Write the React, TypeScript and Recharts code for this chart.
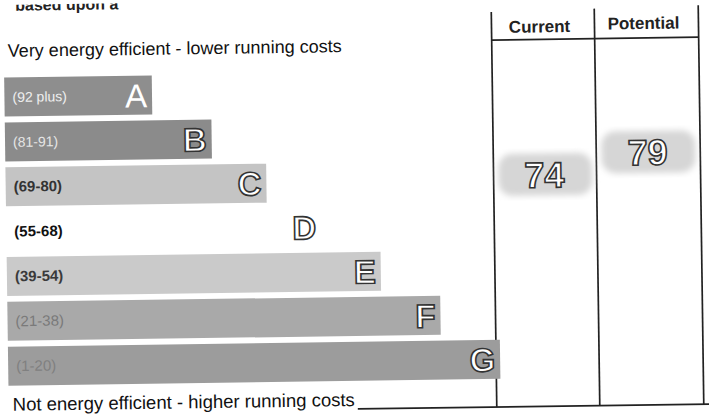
import { BarChart, Bar, XAxis, YAxis, Cell, LabelList, ScatterChart, Scatter } from "recharts"

// rating bands, top (most efficient) to bottom
const bands = ["A", "B", "C", "D", "E", "F", "G"]
const ranges = ["(92 plus)", "(81-91)", "(69-80)", "(55-68)", "(39-54)", "(21-38)", "(1-20)"]
const barLengths = [30, 42, 53, 64, 76, 88, 100]

// current / potential scores
const columns = ["Current", "Potential"]
const ratings = [74, 79]

const bandFills = ["#8e8e8e", "#8b8b8b", "#c4c4c4", "#ffffff", "#cacaca", "#a9a9a9", "#9c9c9c"]
const rangeColors = ["#eeeeee", "#e6e6e6", "#333333", "#111111", "#3a3a3a", "#7a7a7a", "#808080"]

const FONT = "'Liberation Sans', Arial, sans-serif"

const bandData = bands.map((b, i) => ({ band: b, range: ranges[i], length: barLengths[i] }))
const scoreData = ratings.map((r, i) => ({ col: i + 0.5, score: r, name: columns[i] }))

function BandLabel(props: any) {
  const { x, y, width, height, index } = props
  const cy = y + height / 2
  const isA = index === 0
  return (
    <g>
      <text
        x={x + 8}
        y={cy + 5}
        fontFamily={FONT}
        fontSize={index < 2 ? 14 : 15}
        fontWeight={index >= 2 && index <= 4 ? 700 : 400}
        fill={rangeColors[index]}
      >
        {ranges[index]}
      </text>
      <text
        x={x + width - 5}
        y={cy + 12}
        textAnchor="end"
        fontFamily={FONT}
        fontSize={33}
        fontWeight={isA ? 400 : 700}
        fill="#ffffff"
        stroke={isA ? "none" : "#333333"}
        strokeWidth={1.6}
      >
        {bands[index]}
      </text>
    </g>
  )
}

function ScoreMark(props: any) {
  const { cx, cy, payload } = props
  return (
    <g>
      <rect x={cx - 46} y={cy - 21} width={94} height={42} rx={14} fill="#d6d6d6" filter="url(#blurry)" />
      <text
        x={cx}
        y={cy + 13}
        textAnchor="middle"
        fontFamily={FONT}
        fontSize={36}
        fontWeight={700}
        fill="#ffffff"
        stroke="#333333"
        strokeWidth={1.6}
      >
        {payload.score}
      </text>
    </g>
  )
}

export default function App() {
  return (
    <div style={{ position: "absolute", left: 0, top: 0, width: 709, height: 416, overflow: "hidden", background: "#fff" }}>
      <div style={{ position: "absolute", left: 0, top: 0, width: 709, height: 416, transform: "rotate(-0.8deg)" }}>
        <svg width={709} height={416} style={{ position: "absolute", left: 0, top: 0 }}>
          <defs>
            <filter id="blurry">
              <feGaussianBlur stdDeviation={3} />
            </filter>
          </defs>
          <text x={18} y={6} fontFamily={FONT} fontSize={16} fontWeight={700} fill="#222">
            based upon a
          </text>
          <text x={10} y={52} fontFamily={FONT} fontSize={18} fill="#111">
            Very energy efficient - lower running costs
          </text>
          <text x={10} y={406} fontFamily={FONT} fontSize={18.5} fill="#111">
            Not energy efficient - higher running costs
          </text>
          {/* table frame */}
          <g stroke="#222" strokeWidth={1.7}>
            <line x1={494} y1={14} x2={494} y2={409} />
            <line x1={597} y1={12} x2={597} y2={409} />
            <line x1={701} y1={10} x2={701} y2={409} />
            <line x1={494} y1={42} x2={701} y2={42} />
            <line x1={355} y1={409} x2={712} y2={409} />
          </g>
          <text x={542} y={35} textAnchor="middle" fontFamily={FONT} fontSize={17} fontWeight={700} fill="#222">
            {columns[0]}
          </text>
          <text x={646} y={33} textAnchor="middle" fontFamily={FONT} fontSize={17} fontWeight={700} fill="#222">
            {columns[1]}
          </text>
        </svg>
        <div style={{ position: "absolute", left: 0, top: 0 }}>
          <BarChart
            layout="vertical"
            width={505}
            height={416}
            data={bandData}
            margin={{ top: 70, right: 7, left: 6, bottom: 32 }}
            barCategoryGap="6%"
          >
            <XAxis type="number" domain={[0, 100]} hide />
            <YAxis type="category" dataKey="band" hide />
            <Bar dataKey="length" isAnimationActive={false}>
              {bandData.map((d, i) => (
                <Cell key={d.band} fill={bandFills[i]} />
              ))}
              <LabelList dataKey="length" content={<BandLabel />} />
            </Bar>
          </BarChart>
        </div>
        <div style={{ position: "absolute", left: 490, top: 0 }}>
          <ScatterChart width={216} height={416} margin={{ top: 42, right: 6, left: 3, bottom: 11 }}>
            <XAxis type="number" dataKey="col" domain={[0, 2]} hide />
            <YAxis type="number" dataKey="score" domain={[20, 106]} hide />
            <Scatter data={scoreData} shape={<ScoreMark />} isAnimationActive={false} />
          </ScatterChart>
        </div>
      </div>
    </div>
  )
}
